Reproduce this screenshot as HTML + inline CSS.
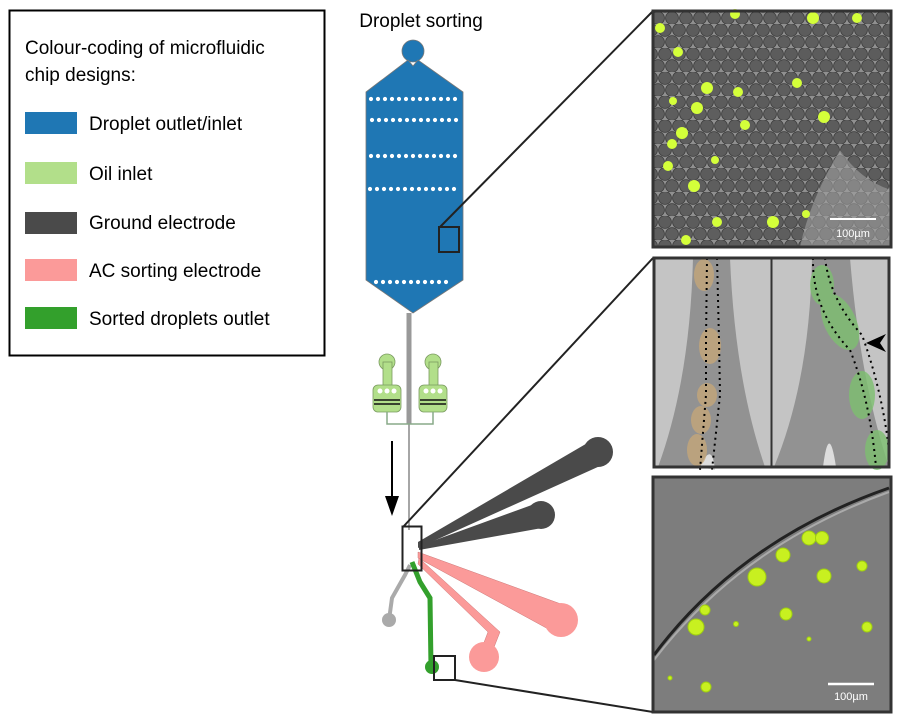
<!DOCTYPE html>
<html><head><meta charset="utf-8"><style>
body{margin:0;background:#fff;}
svg{display:block;font-family:"Liberation Sans",sans-serif;}
</style></head><body>
<svg width="900" height="722" viewBox="0 0 900 722" xmlns="http://www.w3.org/2000/svg">
<defs>
<pattern id="drops" x="0" y="0" width="14" height="24" patternUnits="userSpaceOnUse">
<rect width="14" height="24" fill="#909090"/>
<circle cx="7" cy="6" r="6.4" fill="#5c5c5c" stroke="#3a3a3a" stroke-width="0.8"/>
<circle cx="0" cy="18" r="6.4" fill="#5e5e5e" stroke="#3a3a3a" stroke-width="0.8"/>
<circle cx="14" cy="18" r="6.4" fill="#5e5e5e" stroke="#3a3a3a" stroke-width="0.8"/>
</pattern>
</defs>
<!-- legend -->
<rect x="9.5" y="10.5" width="315" height="345" fill="#fff" stroke="#000" stroke-width="2"/>
<text x="25" y="54" font-size="19">Colour-coding of microfluidic</text>
<text x="25" y="81" font-size="19">chip designs:</text>
<rect x="25" y="112" width="52" height="22" fill="#1f77b4"/><text x="89" y="130" font-size="19">Droplet outlet/inlet</text>
<rect x="25" y="162" width="52" height="22" fill="#b2df8a"/><text x="89" y="180" font-size="19">Oil inlet</text>
<rect x="25" y="212" width="52" height="22" fill="#4a4a4a"/><text x="89" y="229" font-size="19">Ground electrode</text>
<rect x="25" y="259" width="52" height="22" fill="#fb9a99"/><text x="89" y="277" font-size="19">AC sorting electrode</text>
<rect x="25" y="307" width="52" height="22" fill="#33a02c"/><text x="89" y="325" font-size="19">Sorted droplets outlet</text>
<!-- title -->
<text x="421" y="27" font-size="19" text-anchor="middle">Droplet sorting</text>
<!-- blue chip -->
<circle cx="413" cy="51" r="11" fill="#1f77b4" stroke="#777" stroke-width="0.8"/>
<path d="M408,60 L413,66 L418,60 L463,92 L463,280 L413,313 L366,280 L366,92 Z" fill="#1f77b4" stroke="#777" stroke-width="0.8"/>
<g stroke="#fff" stroke-width="4.2" stroke-linecap="round" stroke-dasharray="0,7">
<line x1="371" y1="99" x2="460" y2="99"/>
<line x1="372" y1="120" x2="461" y2="120"/>
<line x1="371" y1="156" x2="460" y2="156"/>
<line x1="370" y1="189" x2="459" y2="189"/>
<line x1="376" y1="282" x2="450" y2="282"/>
</g>
<rect x="439" y="227" width="20" height="25" fill="none" stroke="#222" stroke-width="2"/>
<!-- main channel -->
<line x1="409" y1="313" x2="409" y2="424" stroke="#999" stroke-width="5"/>
<line x1="409" y1="424" x2="409" y2="530" stroke="#888" stroke-width="1.5"/>
<!-- oil inlets -->
<g fill="#b2df8a" stroke="#7a9a60" stroke-width="0.8">
<circle cx="387" cy="362" r="8"/><rect x="383" y="362" width="9" height="26"/>
<rect x="373" y="385" width="28" height="27" rx="5"/>
<circle cx="433" cy="362" r="8"/><rect x="429" y="362" width="9" height="26"/>
<rect x="419" y="385" width="28" height="27" rx="5"/>
</g>
<g fill="#fff"><circle cx="380" cy="391" r="2.5"/><circle cx="387" cy="391" r="2.5"/><circle cx="394" cy="391" r="2.5"/>
<circle cx="426" cy="391" r="2.5"/><circle cx="433" cy="391" r="2.5"/><circle cx="440" cy="391" r="2.5"/></g>
<g stroke="#111" stroke-width="1.6"><line x1="374" y1="400" x2="400" y2="400"/><line x1="374" y1="404" x2="400" y2="404"/><line x1="420" y1="400" x2="446" y2="400"/><line x1="420" y1="404" x2="446" y2="404"/></g>
<path d="M387,412 L387,424 L433,424 L433,412" fill="none" stroke="#8a8" stroke-width="1.5"/>
<!-- arrow -->
<line x1="392" y1="441" x2="392" y2="500" stroke="#000" stroke-width="2"/>
<path d="M385,496 L392,516 L399,496 Z" fill="#000"/>
<!-- electrodes -->
<path d="M418,542 L596,438 L600,466 L418,548 Z" fill="#4a4a4a"/><circle cx="598" cy="452" r="15" fill="#4a4a4a"/>
<path d="M419,546 L540,502 L542,528 L419,550 Z" fill="#4a4a4a"/><circle cx="541" cy="515" r="14" fill="#4a4a4a"/>
<path d="M418,552 L561,604 L561,636 L418,558 Z" fill="#fb9a99" stroke="#c77" stroke-width="0.5"/><circle cx="561" cy="620" r="17" fill="#fb9a99"/>
<path d="M419,558 L500,632 L489,660 L478,658 L488,632 L418,564 Z" fill="#fb9a99" stroke="#c77" stroke-width="0.5"/><circle cx="484" cy="657" r="15" fill="#fb9a99"/>
<!-- outlets -->
<path d="M410,565 L405,575 L392,598 L389,620" fill="none" stroke="#aaa" stroke-width="4"/><circle cx="389" cy="620" r="7" fill="#aaa"/>
<path d="M412,562 L420,582 L430,598 L431,667" fill="none" stroke="#33a02c" stroke-width="5"/><circle cx="432" cy="667" r="7" fill="#33a02c"/>
<rect x="402.5" y="526.5" width="19" height="44" fill="none" stroke="#222" stroke-width="2"/>
<rect x="434" y="656" width="21" height="24" fill="none" stroke="#222" stroke-width="2"/>
<!-- zoom lines -->
<line x1="440" y1="227" x2="653" y2="11" stroke="#222" stroke-width="2"/>
<line x1="403" y1="527" x2="653" y2="258" stroke="#222" stroke-width="2"/>
<line x1="455" y1="680" x2="653" y2="712" stroke="#222" stroke-width="2"/>
<!-- panel 1 -->
<rect x="653" y="11" width="238" height="236" fill="url(#drops)"/>
<path d="M840,150 Q860,180 891,190 L891,247 L800,247 Q810,200 840,150 Z" fill="#a0a0a0" opacity="0.6"/>
<g fill="#d4ff3a">
<circle cx="660" cy="28" r="5"/><circle cx="678" cy="52" r="5"/><circle cx="735" cy="14" r="5"/><circle cx="813" cy="18" r="6"/><circle cx="857" cy="18" r="5"/>
<circle cx="707" cy="88" r="6"/><circle cx="797" cy="83" r="5"/><circle cx="738" cy="92" r="5"/><circle cx="697" cy="108" r="6"/><circle cx="673" cy="101" r="4"/>
<circle cx="824" cy="117" r="6"/><circle cx="682" cy="133" r="6"/><circle cx="745" cy="125" r="5"/><circle cx="672" cy="144" r="5"/><circle cx="668" cy="166" r="5"/>
<circle cx="715" cy="160" r="4"/><circle cx="694" cy="186" r="6"/><circle cx="717" cy="222" r="5"/><circle cx="773" cy="222" r="6"/><circle cx="686" cy="240" r="5"/><circle cx="806" cy="214" r="4"/>
</g>
<line x1="830" y1="219" x2="876" y2="219" stroke="#fff" stroke-width="2"/>
<text x="853" y="237" font-size="11" fill="#fff" text-anchor="middle">100µm</text>
<rect x="653" y="11" width="238" height="236" fill="none" stroke="#333" stroke-width="3"/>
<!-- panel 2 -->
<rect x="654" y="258" width="235" height="209" fill="#c4c4c4"/>
<path d="M693,258 Q690,380 658,467 L765,467 Q735,380 730,258 Z" fill="#929292"/>
<path d="M700,467 Q712,440 715,470 Z" fill="#ddd"/>
<path d="M812,258 Q810,380 774,467 L889,467 Q860,380 850,258 Z" fill="#929292"/>
<path d="M823,467 Q829,420 836,467 Z" fill="#ddd"/>
<g fill="#c8a878" opacity="0.75"><ellipse cx="704" cy="275" rx="10" ry="16"/><ellipse cx="710" cy="346" rx="11" ry="18"/><ellipse cx="707" cy="395" rx="10" ry="12"/><ellipse cx="701" cy="420" rx="10" ry="14"/><ellipse cx="697" cy="450" rx="10" ry="16"/></g>
<g fill="#7dc070" opacity="0.8"><ellipse cx="822" cy="285" rx="12" ry="20"/><ellipse cx="840" cy="322" rx="16" ry="30" transform="rotate(-25 840 322)"/><ellipse cx="862" cy="395" rx="13" ry="24"/><ellipse cx="877" cy="450" rx="12" ry="20"/></g>
<path d="M707,258 L706,340 L706,395 L700,470 M717,258 L719,340 L720,395 L712,470" fill="none" stroke="#000" stroke-width="2" stroke-dasharray="2,4"/>
<path d="M813,258 Q812,310 850,350 Q870,400 876,467 M825,258 Q830,300 862,335 Q882,390 889,450" fill="none" stroke="#000" stroke-width="2" stroke-dasharray="2,4"/>
<path d="M866,343 L886,334 L880,343 L886,352 Z" fill="#000"/>
<line x1="771.5" y1="258" x2="771.5" y2="467" stroke="#333" stroke-width="2"/>
<rect x="654" y="258" width="235" height="209" fill="none" stroke="#333" stroke-width="3"/>
<!-- panel 3 -->
<rect x="653" y="477" width="238" height="235" fill="#7d7d7d"/>
<path d="M654,655 Q740,540 889,488" fill="none" stroke="#222" stroke-width="3"/>
<path d="M654,660 Q742,545 889,492" fill="none" stroke="#aaa" stroke-width="2"/>
<g fill="#c8f020" stroke="#9fcf10" stroke-width="1">
<circle cx="809" cy="538" r="7"/><circle cx="822" cy="538" r="6.5"/><circle cx="783" cy="555" r="7"/><circle cx="757" cy="577" r="9"/><circle cx="824" cy="576" r="7"/>
<circle cx="862" cy="566" r="5"/><circle cx="705" cy="610" r="5"/><circle cx="696" cy="627" r="8"/><circle cx="736" cy="624" r="2.5"/><circle cx="786" cy="614" r="6"/>
<circle cx="867" cy="627" r="5"/><circle cx="809" cy="639" r="2"/><circle cx="670" cy="678" r="2"/><circle cx="706" cy="687" r="5"/>
</g>
<line x1="828" y1="684" x2="874" y2="684" stroke="#fff" stroke-width="2.5"/>
<text x="851" y="700" font-size="11" fill="#fff" text-anchor="middle">100µm</text>
<rect x="653" y="477" width="238" height="235" fill="none" stroke="#333" stroke-width="3"/>
</svg>
</body></html>
